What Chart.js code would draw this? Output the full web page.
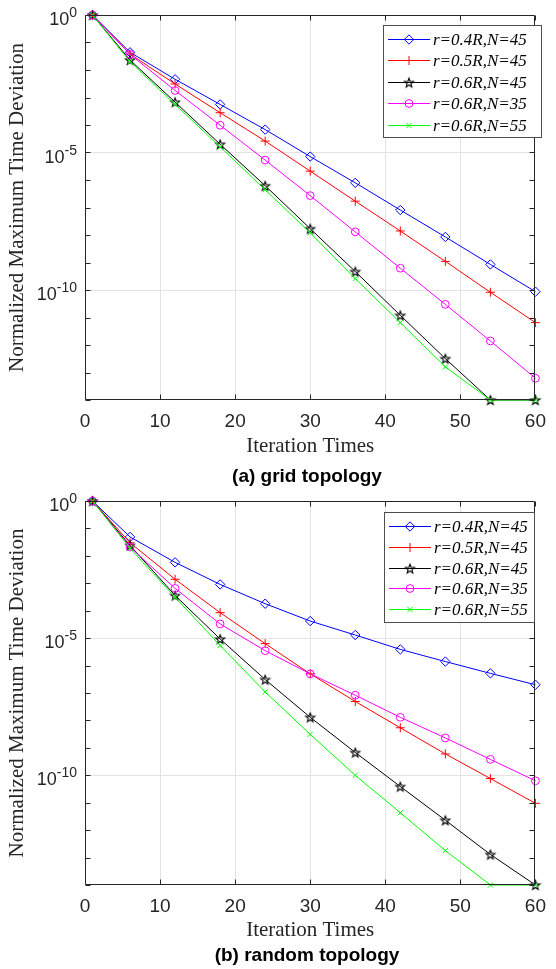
<!DOCTYPE html>
<html lang="en">
<head>
<meta charset="UTF-8">
<title>Normalized Maximum Time Deviation</title>
<script src="https://cdn.jsdelivr.net/npm/chart.js"></script>
<style>
    html, body { margin: 0; padding: 0; background: #fff; }
    body { width: 556px; height: 969px; position: relative; overflow: hidden; }
    canvas { position: absolute; left: 0; }
    #gridChart { top: 0; }
    #randomChart { top: 485px; }
    .caption {
        position: absolute; left: 207px; width: 200px; text-align: center;
        font: bold 19px "Liberation Sans", Arial, sans-serif; line-height: 19px; color: #000;
    }
    #capA { top: 466px; }
    #capB { top: 945px; }
</style>
</head>
<body>
<canvas id="gridChart" width="556" height="485"></canvas>
<div class="caption" id="capA">(a) grid topology</div>
<canvas id="randomChart" width="556" height="484"></canvas>
<div class="caption" id="capB">(b) random topology</div>

<script>
// shared axes / categories
const iterations = [1, 6, 12, 18, 24, 30, 36, 42, 48, 54, 60];
const seriesNames = ['r=0.4R,N=45', 'r=0.5R,N=45', 'r=0.6R,N=45', 'r=0.6R,N=35', 'r=0.6R,N=55'];
const xTicks = [0, 10, 20, 30, 40, 50, 60];
const yDecades = [0, -1, -2, -3, -4, -5, -6, -7, -8, -9, -10, -11, -12, -13, -14];
const yLabelDecades = [0, -5, -10];
const yMin = 1e-14, yMax = 1;

// (a) grid topology
const gridR04N45 = [1, 4.4e-2, 4.6e-3, 5.6e-4, 6.8e-5, 7.1e-6, 7.9e-7, 8.1e-8, 8.5e-9, 8.5e-10, 8.7e-11];
const gridR05N45 = [1, 3.8e-2, 3.1e-3, 2.8e-4, 2.6e-5, 2.1e-6, 1.7e-7, 1.4e-8, 1.1e-9, 8.3e-11, 6.5e-12];
const gridR06N45 = [1, 2.3e-2, 6.8e-4, 2.0e-5, 6.2e-7, 1.7e-8, 4.7e-10, 1.2e-11, 3.2e-13, 1e-14, 1e-14];
const gridR06N35 = [1, 3.7e-2, 1.8e-3, 9.8e-5, 5.3e-6, 2.7e-7, 1.3e-8, 6.2e-10, 3.0e-11, 1.4e-12, 6.2e-14];
const gridR06N55 = [1, 2.0e-2, 5.6e-4, 1.6e-5, 4.4e-7, 1.2e-8, 2.6e-10, 6.5e-12, 1.6e-13, 1e-14, 1e-14];

// (b) random topology
const randR04N45 = [1, 4.9e-2, 5.8e-3, 9.1e-4, 1.8e-4, 4.2e-5, 1.3e-5, 3.9e-6, 1.4e-6, 5.2e-7, 2.0e-7];
const randR05N45 = [1, 3.0e-2, 1.4e-3, 8.5e-5, 6.3e-6, 5.0e-7, 4.9e-8, 5.4e-9, 6.0e-10, 7.6e-11, 9.5e-12];
const randR06N45 = [1, 2.4e-2, 3.6e-4, 9.3e-6, 3.1e-7, 1.3e-8, 6.8e-10, 3.9e-11, 2.3e-12, 1.3e-13, 1e-14];
const randR06N35 = [1, 2.1e-2, 6.5e-4, 3.3e-5, 3.5e-6, 5.0e-7, 8.3e-8, 1.3e-8, 2.3e-9, 3.8e-10, 6.3e-11];
const randR06N55 = [1, 1.9e-2, 3.1e-4, 5.4e-6, 1.1e-7, 3.1e-9, 1.0e-10, 4.3e-12, 1.8e-13, 1e-14, 1e-14];

const axisColor = '#262626';
const gridColor = '#e3e3e3';
const sansFont = '"Liberation Sans", Arial, sans-serif';
const serifFont = '"Liberation Serif", "Times New Roman", serif';

// matlab pentagram marker
function makeStar(color, r) {
    const s = Math.ceil(r * 2 + 4);
    const c = document.createElement('canvas');
    c.width = s; c.height = s;
    const g = c.getContext('2d');
    g.strokeStyle = color;
    g.lineWidth = 1.1;
    g.beginPath();
    for (let i = 0; i < 10; i++) {
        const a = -Math.PI / 2 + i * Math.PI / 5;
        const rr = i % 2 ? r * 0.42 : r;
        g.lineTo(s / 2 + rr * Math.cos(a), s / 2 + rr * Math.sin(a) + 0.5);
    }
    g.closePath();
    g.stroke();
    return c;
}

const seriesStyles = [
    { color: '#0000ff', pointStyle: 'rectRot', radius: 4.7 },
    { color: '#ff0000', pointStyle: 'cross', radius: 4.5 },
    { color: '#000000', pointStyle: makeStar('#000000', 4.8), radius: 4.5 },
    { color: '#ff00ff', pointStyle: 'circle', radius: 3.9 },
    { color: '#00ff00', pointStyle: 'crossRot', radius: 3.6 }
];

function buildDatasets(series) {
    return series.map((values, i) => ({
        label: seriesNames[i],
        data: values.map((v, k) => ({ x: iterations[k], y: v })),
        borderColor: seriesStyles[i].color,
        borderWidth: 1,
        pointStyle: seriesStyles[i].pointStyle,
        pointRadius: seriesStyles[i].radius,
        pointBorderColor: seriesStyles[i].color,
        pointBackgroundColor: 'rgba(0,0,0,0)',
        pointBorderWidth: 1,
        tension: 0,
        clip: 8,
        order: series.length - 1 - i   // later series on top, like matlab
    }));
}

// box, inward ticks, y labels with superscript, legend
function framePlugin(cfg) {
    return {
        id: 'matlabFrame',
        afterDraw(chart) {
            const ctx = chart.ctx;
            const a = chart.chartArea;
            const xs = chart.scales.x, ys = chart.scales.y;
            const L = Math.round(a.left) + 0.5, R = Math.round(a.right) - 0.5;
            const T = Math.round(a.top) + 0.5, B = Math.round(a.bottom) - 0.5;
            ctx.save();
            ctx.strokeStyle = axisColor;
            ctx.lineWidth = 1;
            ctx.beginPath();
            ctx.rect(L, T, R - L, B - T);
            xs.ticks.forEach(t => {
                const px = Math.round(xs.getPixelForValue(t.value)) + 0.5;
                ctx.moveTo(px, B); ctx.lineTo(px, B - 5);
                ctx.moveTo(px, T); ctx.lineTo(px, T + 5);
            });
            ys.ticks.forEach(t => {
                const py = Math.round(ys.getPixelForValue(t.value)) + 0.5;
                ctx.moveTo(L, py); ctx.lineTo(L + 5, py);
                ctx.moveTo(R, py); ctx.lineTo(R - 5, py);
            });
            ctx.stroke();

            // y tick labels 10^n
            ctx.fillStyle = axisColor;
            ctx.textBaseline = 'alphabetic';
            ctx.textAlign = 'left';
            yLabelDecades.forEach(e => {
                const py = ys.getPixelForValue(Math.pow(10, e));
                const sup = String(e);
                ctx.font = '14px ' + sansFont;
                const wSup = ctx.measureText(sup).width;
                ctx.font = '18px ' + sansFont;
                const wMain = ctx.measureText('10').width;
                const right = a.left - 8;
                ctx.fillText('10', right - wSup - wMain, py + 10);
                ctx.font = '14px ' + sansFont;
                ctx.fillText(sup, right - wSup, py + 2);
            });

            // legend
            const lg = cfg.legend;
            ctx.fillStyle = '#fff';
            ctx.fillRect(lg.x, lg.y, lg.w, lg.h);
            ctx.strokeStyle = '#4d4d4d';
            ctx.strokeRect(lg.x + 0.5, lg.y + 0.5, lg.w, lg.h);
            ctx.font = 'italic 17px ' + serifFont;
            ctx.textBaseline = 'middle';
            chart.data.datasets.forEach((ds, i) => {
                const y = Math.round(lg.y + lg.row0 + i * lg.step) + 0.5;
                const st = seriesStyles[i];
                ctx.strokeStyle = st.color;
                ctx.beginPath();
                ctx.moveTo(lg.x + 5, y); ctx.lineTo(lg.x + 47, y);
                ctx.stroke();
                ctx.fillStyle = 'rgba(0,0,0,0)';
                Chart.helpers.drawPoint(ctx, { pointStyle: st.pointStyle, radius: st.radius, rotation: 0, borderWidth: 1 }, lg.x + 26, y);
                ctx.fillStyle = '#000';
                ctx.fillText(ds.label, lg.x + 50, y + 1);
            });
            ctx.restore();
        }
    };
}

function makeChart(id, series, cfg) {
    return new Chart(document.getElementById(id), {
        type: 'line',
        data: { datasets: buildDatasets(series) },
        options: {
            responsive: false,
            animation: false,
            events: [],
            layout: { padding: { top: cfg.padTop, right: 12, left: 0, bottom: cfg.padBottom } },
            plugins: { legend: { display: false }, tooltip: { enabled: false }, title: { display: false } },
            scales: {
                x: {
                    type: 'linear',
                    min: 0, max: 60,
                    afterBuildTicks: s => { s.ticks = xTicks.map(v => ({ value: v })); },
                    afterFit: s => { s.height = cfg.xAxisHeight; },
                    border: { display: false },
                    grid: {
                        drawTicks: false,
                        color: c => (c.tick && c.tick.value > 0 && c.tick.value < 60) ? gridColor : 'rgba(0,0,0,0)'
                    },
                    ticks: { color: axisColor, font: { family: sansFont, size: 19 }, padding: 10, maxRotation: 0 },
                    title: {
                        display: true, text: 'Iteration Times', color: axisColor,
                        font: { family: serifFont, size: 21, lineHeight: 1 },
                        padding: { top: 0, bottom: cfg.xTitlePad }
                    }
                },
                y: {
                    type: 'logarithmic',
                    min: yMin, max: yMax,
                    afterBuildTicks: s => { s.ticks = yDecades.map(e => ({ value: Math.pow(10, e) })); },
                    afterFit: s => { s.width = 85; },
                    border: { display: false },
                    grid: {
                        drawTicks: false,
                        color: c => (c.tick && yLabelDecades.slice(1).includes(Math.round(Math.log10(c.tick.value)))) ? gridColor : 'rgba(0,0,0,0)'
                    },
                    ticks: { display: false },
                    title: {
                        display: true, text: 'Normalized Maximum Time Deviation', color: axisColor,
                        font: { family: serifFont, size: 21, lineHeight: 1 },
                        padding: { top: 7, bottom: 0 }
                    }
                }
            }
        },
        plugins: [framePlugin(cfg)]
    });
}

makeChart('gridChart',
    [gridR04N45, gridR05N45, gridR06N45, gridR06N35, gridR06N55],
    { padTop: 15, padBottom: 18, xAxisHeight: 67, xTitlePad: 10,
      legend: { x: 383, y: 25, w: 158, h: 112, row0: 13.5, step: 21.5 } });

makeChart('randomChart',
    [randR04N45, randR05N45, randR06N45, randR06N35, randR06N55],
    { padTop: 16, padBottom: 23, xAxisHeight: 61, xTitlePad: 5,
      legend: { x: 384, y: 27, w: 150, h: 110, row0: 14, step: 20.8 } });
</script>
</body>
</html>
